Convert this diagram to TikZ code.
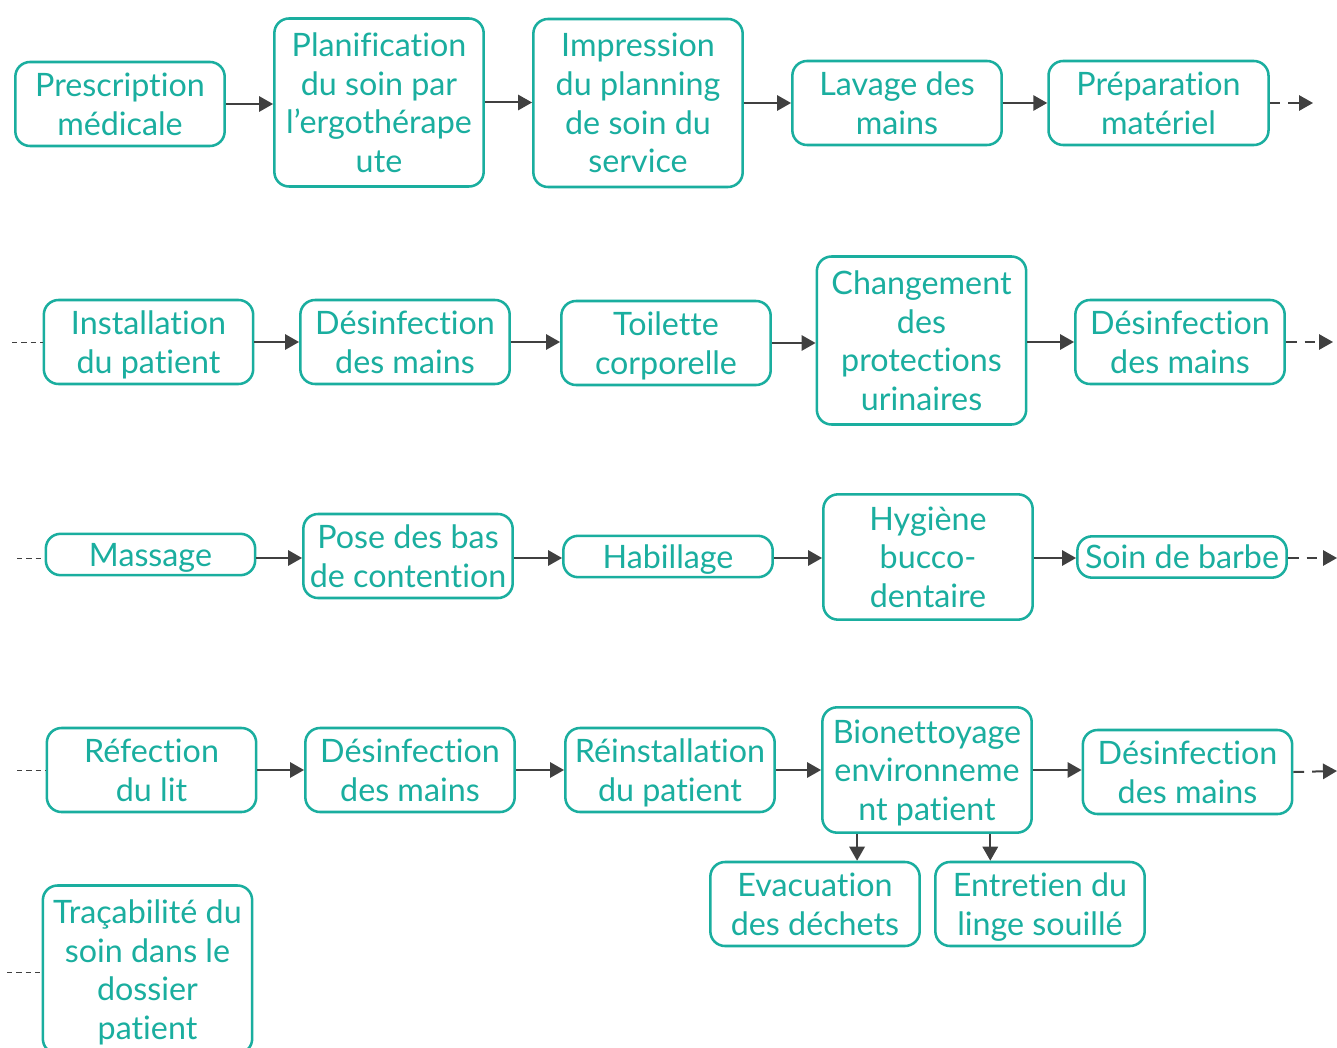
\documentclass[tikz,border=0pt]{standalone}
\usepackage{fontspec}
\setmainfont[Ligatures=NoCommon]{Lato}
\usetikzlibrary{arrows.meta}
\definecolor{boxteal}{RGB}{26,174,159}
\definecolor{arrowgray}{RGB}{64,64,64}
\tikzset{
  stepbox/.style={draw=boxteal,line width=1.9pt,rounded corners=11pt,fill=white,
    text=boxteal,align=center,minimum width=157pt,inner sep=0pt,text depth=0pt,
    font=\fontsize{24.2}{29}\selectfont},
  oneline/.style={stepbox,minimum height=31pt},
  twolines/.style={stepbox,minimum height=63pt},
  threelines/.style={stepbox,minimum height=94pt},
  fourlines/.style={stepbox,minimum height=126pt},
  flow/.style={-{Triangle[length=10.5pt,width=11.5pt]},arrowgray,line width=1.5pt},
  cont/.style={flow,dash pattern=on 8pt off 6pt},
  lead/.style={arrowgray,line width=0.6pt,dash pattern=on 4pt off 3pt}
}
\begin{document}
\begin{tikzpicture}[x=0.75pt,y=-0.75pt]
  \useasboundingbox (0,0) rectangle (1337,1048);
  % row 1
  \node[twolines] (presc) at (120,104) {Prescription\\médicale};
  \node[fourlines] (planif) at (379,102.5) {Planification\\du soin par\\l’ergothérape\\ute};
  \node[fourlines] (impr) at (638,103) {Impression\\du planning\\de soin du\\service};
  \node[twolines] (lavage) at (897,103) {Lavage des\\mains};
  \node[twolines,minimum width=165pt] (prepa) at (1158.5,103) {Préparation\\matériel};
  \coordinate (next1) at (1313,103);
  \draw[flow] (presc.east) -- (presc.east -| planif.west);
  \draw[flow] (planif.east) -- (planif.east -| impr.west);
  \draw[flow] (impr.east) -- (impr.east -| lavage.west);
  \draw[flow] (lavage.east) -- (lavage.east -| prepa.west);
  \draw[cont] (prepa.east) -- (next1);
  % row 2
  \node[twolines] (install) at (148.5,342) {Installation\\du patient};
  \node[twolines] (desinfA) at (405,342) {Désinfection\\des mains};
  \node[twolines] (toilette) at (666,343) {Toilette\\corporelle};
  \node[fourlines] (change) at (921.5,340.5) {Changement\\des\\protections\\urinaires};
  \node[twolines] (desinfB) at (1180,342) {Désinfection\\des mains};
  \coordinate (prev2) at (12,342);
  \coordinate (next2) at (1333,342);
  \draw[lead] (prev2) -- (install.west);
  \draw[flow] (install.east) -- (install.east -| desinfA.west);
  \draw[flow] (desinfA.east) -- (desinfA.east -| toilette.west);
  \draw[flow] (toilette.east) -- (toilette.east -| change.west);
  \draw[flow] (change.east |- desinfB.west) -- (desinfB.west);
  \draw[cont] (desinfB.east) -- (next2);
  % row 3
  \node[oneline] (massage) at (150.5,554.5) {Massage};
  \node[twolines] (bas) at (408,556) {Pose des bas\\de contention};
  \node[oneline] (habil) at (668,556.5) {Habillage};
  \node[threelines] (hygiene) at (928,557) {Hygiène\\bucco-\\dentaire};
  \node[oneline] (barbe) at (1182,557) {Soin de barbe};
  \coordinate (prev3) at (17,558);
  \coordinate (next3) at (1337,558);
  \draw[lead] (prev3) -- (prev3 -| massage.west);
  \draw[flow] (massage.east |- prev3) -- (prev3 -| bas.west);
  \draw[flow] (bas.east |- prev3) -- (prev3 -| habil.west);
  \draw[flow] (habil.east |- prev3) -- (prev3 -| hygiene.west);
  \draw[flow] (hygiene.east |- prev3) -- (prev3 -| barbe.west);
  \draw[cont] (barbe.east |- next3) -- (next3);
  % row 4
  \node[twolines] (refec) at (151.5,770) {Réfection\\du lit};
  \node[twolines] (desinfC) at (410,770) {Désinfection\\des mains};
  \node[twolines] (reinst) at (670,770) {Réinstallation\\du patient};
  \node[threelines] (bionet) at (927,770) {Bionettoyage\\environneme\\nt patient};
  \node[twolines] (desinfD) at (1187.5,772) {Désinfection\\des mains};
  \node[twolines] (dechets) at (815,904) {Evacuation\\des déchets};
  \node[twolines] (linge) at (1040,904) {Entretien du\\linge souillé};
  \coordinate (prev4) at (17,770);
  \coordinate (next4) at (1337,771);
  \coordinate (down1) at ([xshift=27pt]bionet.south west);
  \coordinate (down2) at ([xshift=-32pt]bionet.south east);
  \draw[lead] (prev4) -- (refec.west);
  \draw[flow] (refec.east) -- (refec.east -| desinfC.west);
  \draw[flow] (desinfC.east) -- (desinfC.east -| reinst.west);
  \draw[flow] (reinst.east) -- (reinst.east -| bionet.west);
  \draw[flow] (bionet.east) -- (bionet.east -| desinfD.west);
  \draw[cont] (desinfD.east) -- (next4);
  \draw[flow] (down1) -- (down1 |- dechets.north);
  \draw[flow] (down2) -- (down2 |- linge.north);
  % row 5
  \node[fourlines] (traca) at (147.5,969.5) {Traçabilité du\\soin dans le\\dossier\\patient};
  \coordinate (prev5) at (7,972);
  \draw[lead] (prev5) -- (prev5 -| traca.west);
\end{tikzpicture}
\end{document}
